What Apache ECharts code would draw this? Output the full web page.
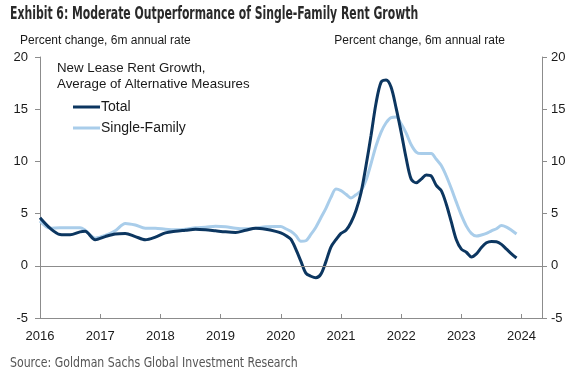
<!DOCTYPE html>
<html>
<head>
<meta charset="utf-8">
<script src="https://cdn.jsdelivr.net/npm/echarts@6/dist/echarts.min.js"></script>
<style>
  html, body { margin: 0; padding: 0; background: #fff; }
  #chart { width: 578px; height: 377px; }
</style>
</head>
<body>
<div id="chart"></div>
<script>
// months of the readings (YYYY-MM)
const months = [
  '2016-01', '2016-03', '2016-05', '2016-07', '2016-09', '2016-10', '2016-12',
  '2017-02', '2017-04', '2017-06', '2017-08', '2017-10', '2017-12',
  '2018-02', '2018-04', '2018-06', '2018-08', '2018-10', '2018-12',
  '2019-02', '2019-04', '2019-06', '2019-08', '2019-10', '2019-12',
  '2020-01', '2020-02', '2020-03', '2020-04', '2020-05', '2020-06',
  '2020-07', '2020-08', '2020-09', '2020-10', '2020-11', '2020-12',
  '2021-01', '2021-02', '2021-03', '2021-04', '2021-05', '2021-06',
  '2021-07', '2021-08', '2021-09', '2021-10', '2021-11', '2021-12',
  '2022-01', '2022-02', '2022-03', '2022-04', '2022-05', '2022-06',
  '2022-07', '2022-08', '2022-09', '2022-10', '2022-11', '2022-12',
  '2023-01', '2023-02', '2023-03', '2023-04', '2023-05', '2023-06',
  '2023-07', '2023-08', '2023-09', '2023-10', '2023-11', '2023-12'
];

const total = [
  4.6, 3.6, 3.0, 2.97, 3.25, 3.3, 2.5,
  2.8, 3.05, 3.1, 2.8, 2.5, 2.75,
  3.15, 3.3, 3.4, 3.5, 3.45, 3.35,
  3.25, 3.2, 3.4, 3.6, 3.5, 3.3,
  3.15, 2.9, 2.55, 1.6, 0.45, -0.7,
  -1.0, -1.15, -0.8, 0.4, 1.8, 2.5,
  3.1, 3.4, 4.15, 5.3, 7.0, 9.6,
  12.5, 15.6, 17.6, 17.8, 17.1, 15.1,
  12.8, 10.3, 8.3, 7.95, 8.3, 8.7,
  8.6, 7.7, 7.2, 5.9, 4.2, 2.5,
  1.6, 1.3, 0.85, 1.15, 1.75, 2.2,
  2.33, 2.3, 2.05, 1.6, 1.15, 0.75
];

const singleFamily = [
  4.3, 3.6, 3.65, 3.65, 3.65, 3.4, 2.65,
  2.9, 3.35, 4.05, 3.9, 3.6, 3.6,
  3.5, 3.45, 3.5, 3.65, 3.7, 3.8,
  3.75, 3.6, 3.55, 3.6, 3.75, 3.77,
  3.77, 3.55, 3.3, 2.9, 2.35, 2.4,
  3.0, 3.7, 4.6, 5.5, 6.55, 7.35,
  7.2, 6.85, 6.5, 6.8, 7.2, 8.2,
  9.8, 11.5, 12.8, 13.7, 14.2, 14.25,
  13.6, 12.7, 11.6, 10.9, 10.75, 10.75,
  10.75, 10.2, 9.6, 8.6, 7.4, 6.1,
  4.85, 3.8, 3.1, 2.85, 2.95, 3.1,
  3.35, 3.55, 3.85, 3.7, 3.4, 3.05
];

const yearTicks = [2016, 2017, 2018, 2019, 2020, 2021, 2022, 2023, 2024];

const toYear = (m) => {
  const [y, mo] = m.split('-').map(Number);
  return y + (mo - 1) / 12;
};
const pairs = (vals) => months.map((m, i) => [toYear(m), vals[i]]);

const axisGray = '#8c8c8c';
const sans = 'Liberation Sans, Arial, sans-serif';
const labelFont = { color: '#1a1a1a', fontSize: 13, fontFamily: sans };
const narrow = "'Liberation Sans Narrow', 'DejaVu Sans Condensed', sans-serif";

const yAxisBase = {
  type: 'value',
  min: -5,
  max: 20,
  interval: 5,
  splitLine: { show: false },
  axisLine: { show: true, lineStyle: { color: axisGray, width: 1 } },
  axisTick: { show: true, length: 5, lineStyle: { color: axisGray } },
};

const chart = echarts.init(document.getElementById('chart'), null, { renderer: 'canvas' });
chart.setOption({
  animation: false,
  backgroundColor: '#fff',
  grid: { left: 40, right: 36, top: 57, bottom: 59, containLabel: false },
  graphic: [
    {
      type: 'text', x: 10, y: 5, scaleX: 0.69,
      style: { text: 'Exhibit 6: Moderate Outperformance of Single-Family Rent Growth',
        font: 'bold 17.5px ' + narrow, fill: '#2a2a2a' },
    },
    {
      type: 'text', left: 20, top: 35,
      style: { text: 'Percent change, 6m annual rate', font: '12px ' + sans, fill: '#1a1a1a' },
    },
    {
      type: 'text', right: 73, top: 35,
      style: { text: 'Percent change, 6m annual rate', font: '12px ' + sans, fill: '#1a1a1a' },
    },
    {
      type: 'text', left: 57, top: 60,
      style: { text: 'New Lease Rent Growth,\nAverage of Alternative Measures',
        font: '13.3px ' + sans, fill: '#1a1a1a', lineHeight: 16 },
    },
    {
      type: 'text', x: 10, y: 356, scaleX: 0.87,
      style: { text: 'Source: Goldman Sachs Global Investment Research',
        font: '14px ' + narrow, fill: '#555' },
    },
  ],
  legend: {
    orient: 'vertical',
    left: 73,
    top: 100,
    padding: 0,
    itemWidth: 27,
    itemHeight: 3,
    itemGap: 7,
    icon: 'rect',
    textStyle: { color: '#1a1a1a', fontSize: 14, fontFamily: sans, padding: [0, 0, 0, -4] },
    data: ['Total', 'Single-Family'],
  },
  xAxis: {
    type: 'value',
    min: 2016,
    max: 2024.34,
    splitLine: { show: false },
    axisLine: { show: true, onZero: false, lineStyle: { color: axisGray, width: 1 } },
    axisTick: { show: true, inside: true, length: 4, customValues: yearTicks, lineStyle: { color: axisGray } },
    axisLabel: Object.assign({ margin: 12, customValues: yearTicks, formatter: (v) => String(v) }, labelFont),
  },
  yAxis: [
    Object.assign({ position: 'left', axisLabel: Object.assign({ margin: 12 }, labelFont) }, yAxisBase),
    Object.assign({ position: 'right', axisLabel: Object.assign({ margin: 9 }, labelFont) }, yAxisBase),
  ],
  series: [
    {
      name: 'Single-Family',
      type: 'line',
      data: pairs(singleFamily),
      smooth: 0.3,
      showSymbol: false,
      lineStyle: { color: '#a9cdea', width: 3 },
      itemStyle: { color: '#a9cdea' },
      z: 2,
      markLine: {
        silent: true,
        symbol: 'none',
        label: { show: false },
        lineStyle: { color: axisGray, width: 1, type: 'solid' },
        data: [{ yAxis: 0 }],
      },
    },
    {
      name: 'Total',
      type: 'line',
      data: pairs(total),
      smooth: 0.3,
      showSymbol: false,
      lineStyle: { color: '#0c3660', width: 3 },
      itemStyle: { color: '#0c3660' },
      z: 3,
    },
  ],
});
</script>
</body>
</html>
